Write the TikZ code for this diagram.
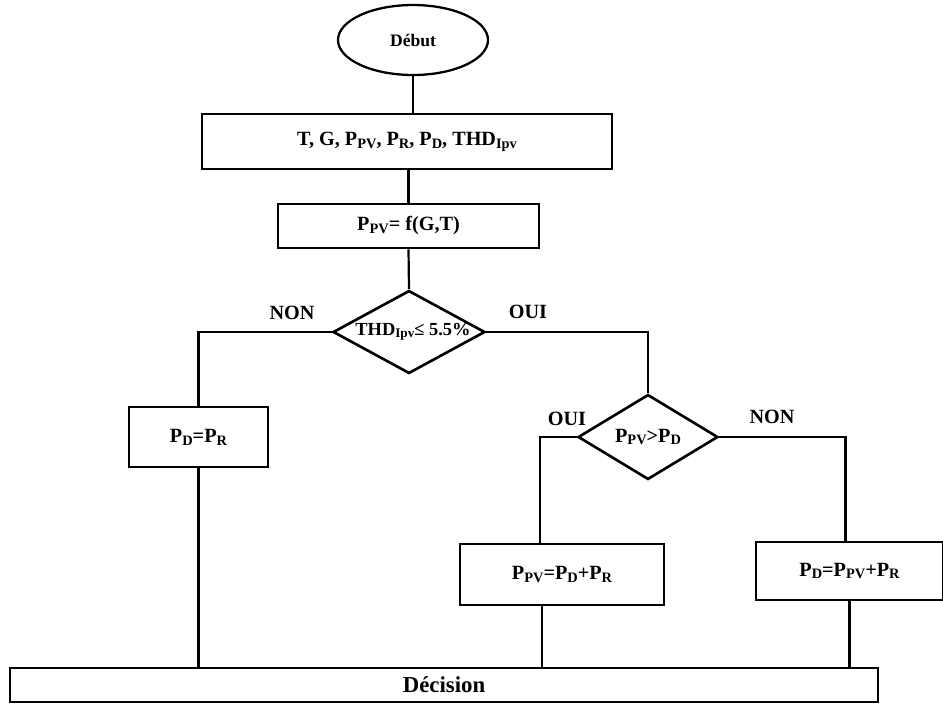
\documentclass[tikz,border=0pt]{standalone}
\usepackage{fontspec}
\setmainfont{Liberation Serif}
\usetikzlibrary{shapes.geometric}
\newcommand{\ind}[1]{\raisebox{-0.3ex}{\fontsize{8.2}{9}\selectfont #1}}

\begin{document}
\begin{tikzpicture}[x=0.02cm,y=-0.02cm]
        \tikzset{bloc/.style={draw,line width=1.6pt,align=center,font=\fontsize{11.5}{13}\selectfont\bfseries},
          choix/.style={draw,diamond,line width=1.5pt,inner sep=0pt,font=\fontsize{11.5}{13}\selectfont\bfseries},
          lien/.style={line width=1.25pt},
          etiq/.style={font=\fontsize{11.5}{13}\selectfont\bfseries}}
        \useasboundingbox (0,0) rectangle (943,704);
        \node[draw,ellipse,line width=1.3pt,minimum width=3cm,minimum height=1.4cm,font=\fontsize{10}{12}\selectfont\bfseries] (debut) at (413,40) {Début};
        \node[bloc,minimum width=8.2cm,minimum height=1.1cm] (donnees) at (407,141.5) {T, G, P\ind{PV}, P\ind{R}, P\ind{D}, THD\ind{Ipv}};
        \node[bloc,minimum width=5.22cm,minimum height=0.88cm] (ppv) at (408.5,226) {P\ind{PV}= f(G,T)};
        \node[choix,minimum width=3.04cm,minimum height=1.66cm,font=\fontsize{10.5}{12}\selectfont\bfseries] (test1) at (409,332) {\makebox[0pt]{\hspace{0.16cm}THD{\fontsize{7.5}{8}\selectfont\raisebox{-0.3ex}{Ipv}}≤ 5.5\%}};
        \node[choix,minimum width=2.8cm,minimum height=1.7cm] (test2) at (648,437) {\makebox[0pt]{P\ind{PV}>P\ind{D}}};
        \node[bloc,minimum width=2.78cm,minimum height=1.2cm] (pdpr) at (198.5,437) {P\ind{D}=P\ind{R}};
        \node[bloc,minimum width=4.08cm,minimum height=1.22cm] (ppvbox) at (562,574.5) {P\ind{PV}=P\ind{D}+P\ind{R}};
        \node[bloc,minimum width=3.74cm,minimum height=1.16cm] (pdbox) at (849.5,571) {P\ind{D}=P\ind{PV}+P\ind{R}};
        \node[bloc,minimum width=17.36cm,minimum height=0.68cm,font=\fontsize{13}{15}\selectfont\bfseries] (decision) at (444,685) {Décision};
        \node[etiq] (non1) at (292,313) {NON};
        \node[etiq] (oui1) at (528,312) {OUI};
        \node[etiq] (oui2) at (567,419) {OUI};
        \node[etiq] (non2) at (772,417) {NON};
        \draw[lien] (debut.south) -- (debut.south |- donnees.north);
        \draw[lien] (donnees.south -| ppv) -- (ppv.north);
        \draw[lien] (ppv.south) -- (test1.north);
        \draw[lien] (test1.west) -| (pdpr.north);
        \draw[lien] (test1.east) -| (test2.north);
        \draw[lien] (test2.west) -| ([xshift=-0.44cm]ppvbox.north);
        \draw[lien] (test2.east) -| ([xshift=-0.08cm]pdbox.north);
        \draw[lien] (pdpr.south) -- (pdpr.south |- decision.north);
        \draw[lien] ([xshift=-0.4cm]ppvbox.south) -- ([xshift=-0.4cm]ppvbox.south |- decision.north);
        \draw[lien] (pdbox.south) -- (pdbox.south |- decision.north);
      \end{tikzpicture}
\end{document}
